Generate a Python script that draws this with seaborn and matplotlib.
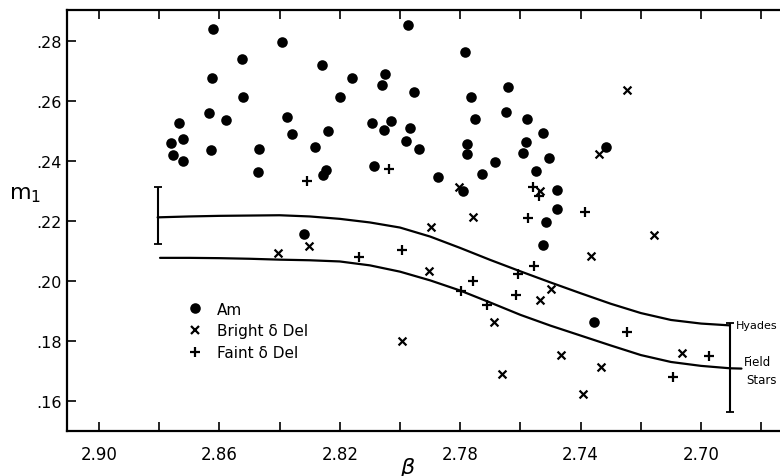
import matplotlib
matplotlib.use("Agg")
import matplotlib.pyplot as plt
from matplotlib.lines import Line2D
import seaborn as sns
import pandas as pd
import numpy as np

# ---------------- data ----------------
am_beta = [2.8621, 2.8393, 2.8526, 2.8625, 2.8522, 2.8634, 2.8579, 2.8733, 2.8720, 2.8762,
           2.8753, 2.8722, 2.8629, 2.8469, 2.8472, 2.8374, 2.8358, 2.8283, 2.8318,
           2.7972, 2.7785, 2.8260, 2.8160, 2.8051, 2.8061, 2.7953, 2.8198, 2.7642, 2.7764,
           2.7751, 2.7648, 2.7577, 2.8239, 2.8092, 2.8030, 2.8053, 2.7968, 2.7980, 2.7936,
           2.7779, 2.7779, 2.7686, 2.7729, 2.7873, 2.8087, 2.8246, 2.8256, 2.7583, 2.7591,
           2.7524, 2.7506, 2.7548, 2.7792, 2.7480, 2.7478, 2.7516, 2.7524, 2.7316, 2.7357]
am_m1 = [0.2840, 0.2796, 0.2739, 0.2678, 0.2612, 0.2561, 0.2538, 0.2526, 0.2472, 0.2459,
         0.2421, 0.2399, 0.2437, 0.2440, 0.2364, 0.2548, 0.2489, 0.2448, 0.2157,
         0.2852, 0.2763, 0.2720, 0.2677, 0.2691, 0.2653, 0.2631, 0.2612, 0.2646, 0.2614,
         0.2540, 0.2563, 0.2541, 0.2501, 0.2527, 0.2533, 0.2504, 0.2510, 0.2468, 0.2441,
         0.2457, 0.2423, 0.2397, 0.2357, 0.2346, 0.2382, 0.2370, 0.2354, 0.2463, 0.2427,
         0.2494, 0.2411, 0.2367, 0.2299, 0.2303, 0.2240, 0.2198, 0.2120, 0.2447, 0.1864]

bright_beta = [2.8405, 2.8303, 2.7898, 2.7903, 2.7994, 2.7803, 2.7756, 2.7687, 2.7662, 2.7535,
               2.7535, 2.7499, 2.7464, 2.7393, 2.7366, 2.7338, 2.7334, 2.7245, 2.7156, 2.7062]
bright_m1 = [0.2093, 0.2118, 0.2180, 0.2033, 0.1801, 0.2314, 0.2212, 0.1864, 0.1691, 0.2299,
             0.1936, 0.1973, 0.1754, 0.1623, 0.2082, 0.2423, 0.1714, 0.2638, 0.2152, 0.1760]

faint_beta = [2.8308, 2.8037, 2.8136, 2.7994, 2.7757, 2.7797, 2.7712, 2.7607, 2.7554, 2.7615,
              2.7559, 2.7537, 2.7574, 2.7384, 2.7247, 2.6975, 2.7092]
faint_m1 = [0.2332, 0.2372, 0.2079, 0.2102, 0.1999, 0.1968, 0.1920, 0.2023, 0.2051, 0.1953,
            0.2314, 0.2284, 0.2210, 0.2230, 0.1830, 0.1750, 0.1681]

hyades_beta = [2.8805, 2.87, 2.86, 2.85, 2.84, 2.83, 2.82, 2.81, 2.80, 2.79, 2.78, 2.77,
               2.76, 2.75, 2.74, 2.73, 2.72, 2.71, 2.70, 2.6905]
hyades_m1 = [0.2212, 0.2215, 0.2217, 0.2218, 0.2219, 0.2215, 0.2207, 0.2195, 0.2178, 0.2148,
             0.2110, 0.2070, 0.2032, 0.1995, 0.1959, 0.1924, 0.1893, 0.1870, 0.1858, 0.1852]

field_beta = [2.8797, 2.87, 2.86, 2.85, 2.84, 2.83, 2.82, 2.81, 2.80, 2.79, 2.78, 2.77,
              2.76, 2.75, 2.74, 2.73, 2.72, 2.71, 2.70, 2.6904, 2.6866]
field_m1 = [0.2077, 0.2077, 0.2076, 0.2074, 0.2071, 0.2069, 0.2065, 0.2052, 0.2031, 0.2002,
            0.1968, 0.1928, 0.1887, 0.1851, 0.1818, 0.1785, 0.1753, 0.1730, 0.1717, 0.1709, 0.1708]

errbar_beta = [2.8805, 2.6904]
errbar_low = [0.2123, 0.1562]
errbar_high = [0.2313, 0.1860]

group_labels = ["Am", "Bright \u03b4 Del", "Faint \u03b4 Del"]
xtick_vals = [2.90, 2.88, 2.86, 2.84, 2.82, 2.80, 2.78, 2.76, 2.74, 2.72, 2.70, 2.68]
xtick_labels = ["2.90", "", "2.86", "", "2.82", "", "2.78", "", "2.74", "", "2.70", ""]
ytick_vals = [0.16, 0.18, 0.20, 0.22, 0.24, 0.26, 0.28]
ytick_labels = [".16", ".18", ".20", ".22", ".24", ".26", ".28"]

# ---------------- style ----------------
sns.set_style("ticks")
plt.rcParams["font.family"] = ["DejaVu Sans"]
plt.rcParams["mathtext.fontset"] = "dejavusans"
plt.rcParams["text.color"] = "black"
plt.rcParams["axes.labelcolor"] = "black"
plt.rcParams["xtick.color"] = "black"
plt.rcParams["ytick.color"] = "black"
plt.rcParams["axes.edgecolor"] = "black"

fig = plt.figure(figsize=(7.8, 4.77), dpi=100)
ax = fig.add_axes([67 / 780, 1 - 432 / 477, 713 / 780, 421 / 477])

am_df = pd.DataFrame({"beta": am_beta, "m1": am_m1})
br_df = pd.DataFrame({"beta": bright_beta, "m1": bright_m1})
fa_df = pd.DataFrame({"beta": faint_beta, "m1": faint_m1})

sns.scatterplot(data=am_df, x="beta", y="m1", marker="o", s=58, color="black",
                edgecolor="black", linewidth=0, ax=ax, legend=False, zorder=3)
sns.scatterplot(data=br_df, x="beta", y="m1", marker="x", s=32, color="black",
                linewidth=1.6, ax=ax, legend=False, zorder=3)
sns.scatterplot(data=fa_df, x="beta", y="m1", marker="+", s=58, color="black",
                linewidth=1.6, ax=ax, legend=False, zorder=3)

sns.lineplot(x=hyades_beta, y=hyades_m1, color="black", lw=1.6, ax=ax, sort=False,
             estimator=None, zorder=2)
sns.lineplot(x=field_beta, y=field_m1, color="black", lw=1.6, ax=ax, sort=False,
             estimator=None, zorder=2)

eb_low = np.array(errbar_low)
eb_high = np.array(errbar_high)
ax.errorbar(errbar_beta, (eb_low + eb_high) / 2, yerr=(eb_high - eb_low) / 2,
            fmt="none", ecolor="black", elinewidth=1.5, capsize=3, capthick=1.3, zorder=2)

ax.text(2.6884, 0.1852, "Hyades", fontsize=8, ha="left", va="center", clip_on=False)
ax.text(2.6857, 0.1732, "Field", fontsize=8.5, ha="left", va="center", clip_on=False)
ax.text(2.6851, 0.1673, "Stars", fontsize=8.5, ha="left", va="center", clip_on=False)

# axes
ax.set_xlim(2.9106, 2.6738)
ax.set_ylim(0.15, 0.2903)
ax.set_xticks(xtick_vals)
ax.set_xticklabels(xtick_labels, fontsize=12)
ax.set_yticks(ytick_vals)
ax.set_yticklabels(ytick_labels, fontsize=11.5)
ax.tick_params(axis="x", direction="in", length=6.5, width=1.2, top=True, bottom=True, pad=10)
ax.tick_params(axis="y", direction="in", length=6.5, width=1.2, left=True, right=False, pad=4)
for side in ["left", "bottom", "top"]:
    ax.spines[side].set_linewidth(1.6)
ax.spines["right"].set_visible(False)

ax.set_xlabel("\u03b2", fontsize=16, style="italic")
ax.xaxis.set_label_coords((407 - 67) / 713, -0.062)
ax.set_ylabel(r"$\mathregular{m_1}$", fontsize=16, rotation=0, va="center", ha="center")
ax.yaxis.set_label_coords(-0.059, 0.563)

handles = [
    Line2D([], [], marker="o", color="black", ls="none", markersize=7.6, markeredgewidth=0),
    Line2D([], [], marker="x", color="black", ls="none", markersize=5.6, markeredgewidth=1.6),
    Line2D([], [], marker="+", color="black", ls="none", markersize=7.6, markeredgewidth=1.6),
]
ax.legend(handles, group_labels, loc="upper left", bbox_to_anchor=(0.169, 0.307),
          frameon=False, fontsize=11, handlelength=1.0, handletextpad=0.9,
          labelspacing=0.44, borderpad=0, borderaxespad=0)

fig.savefig("out.png", dpi=100, facecolor="white")
